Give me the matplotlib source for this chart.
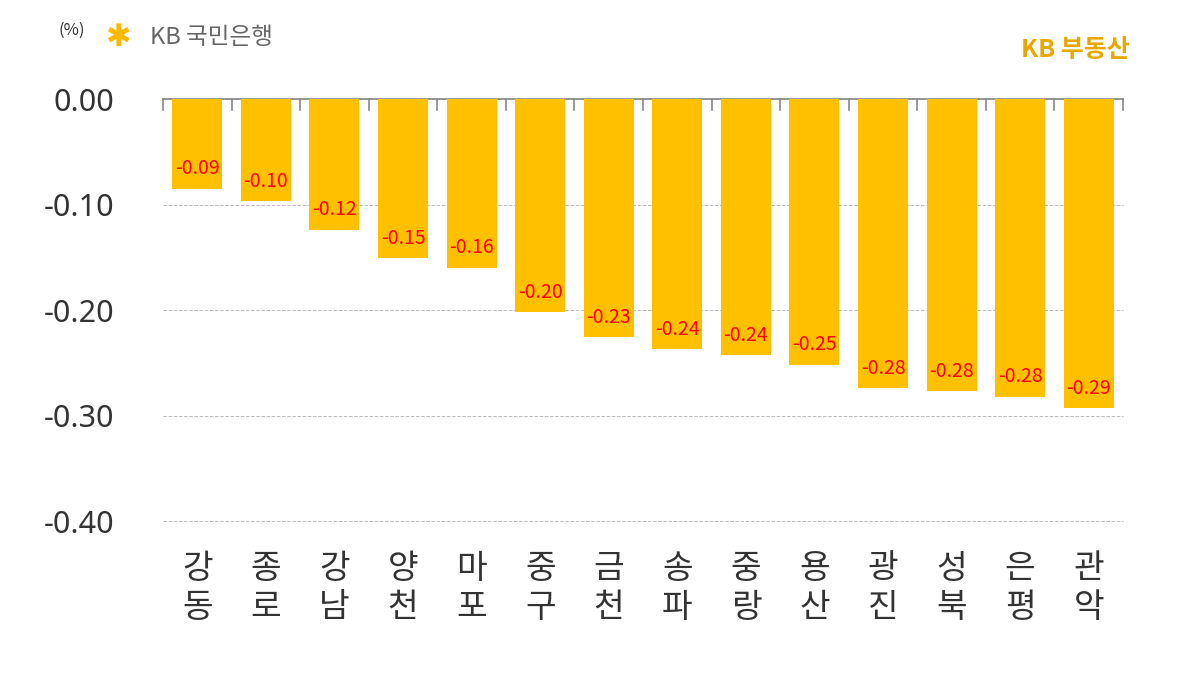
import matplotlib
matplotlib.use("Agg")
import matplotlib.pyplot as plt

plt.rcParams["font.family"] = ["Noto Sans CJK JP", "Noto Sans CJK KR", "Noto Sans CJK SC", "DejaVu Sans"]

districts = ["강\n동", "종\n로", "강\n남", "양\n천", "마\n포", "중\n구", "금\n천",
             "송\n파", "중\n랑", "용\n산", "광\n진", "성\n북", "은\n평", "관\n악"]
values = [-0.085, -0.097, -0.124, -0.151, -0.160, -0.202, -0.226,
          -0.237, -0.243, -0.252, -0.274, -0.277, -0.282, -0.293]
labels = ["-0.09", "-0.10", "-0.12", "-0.15", "-0.16", "-0.20", "-0.23",
          "-0.24", "-0.24", "-0.25", "-0.28", "-0.28", "-0.28", "-0.29"]
yticks = [0.0, -0.1, -0.2, -0.3, -0.4]

fig = plt.figure(figsize=(11.84, 6.74), dpi=100)
ax = fig.add_axes([0.1377, 0.227, 0.8108, 0.626])
x = range(len(values))
ax.bar(x, values, width=0.73, color="#FFC000", zorder=3)
for i, (v, t) in enumerate(zip(values, labels)):
    ax.text(i, v + 0.019, t, ha="center", va="center", color="#FF0000", fontsize=14, zorder=4)

ax.set_xlim(-0.5, len(values) - 0.5)
ax.set_ylim(-0.40, 0.0)
ax.set_yticks(yticks)
ax.set_yticklabels([f"{v:.2f}" for v in yticks], fontsize=22, color="#333333", fontfamily="Noto Sans")
ax.tick_params(axis="y", length=0, pad=35)
ax.set_xticks([])
ax.grid(axis="y", color="#bbbbbb", linestyle="--", linewidth=0.7, zorder=0)
for gl in ax.get_ygridlines():
    gl.set_clip_on(False)
for s in ["left", "right", "bottom"]:
    ax.spines[s].set_visible(False)
ax.spines["top"].set_color("#888888")
ax.spines["top"].set_linewidth(1.2)
for b in [i - 0.5 for i in range(len(values) + 1)]:
    ax.plot([b, b], [0, -0.01], color="#888888", lw=1.2, clip_on=False, zorder=5)

for i, d in enumerate(districts):
    ax.text(i, -0.428, d, ha="center", va="top", fontsize=24, color="#333333", linespacing=1.15)

fig.text(72/1184, 1-30/674, "(%)", fontsize=12, color="#333333", ha="center", va="center")
fig.text(118/1184, 1-38/674, "✱", fontsize=22, color="#FFB800", ha="center", va="center", family="DejaVu Sans")
fig.text(150/1184, 1-38/674, "KB 국민은행", fontsize=17, color="#666666", ha="left", va="center")
fig.text(1130/1184, 1-50/674, "KB 부동산", fontsize=18, color="#E8A800", ha="right", va="center", fontweight="bold")

fig.savefig("out.png", dpi=100)
